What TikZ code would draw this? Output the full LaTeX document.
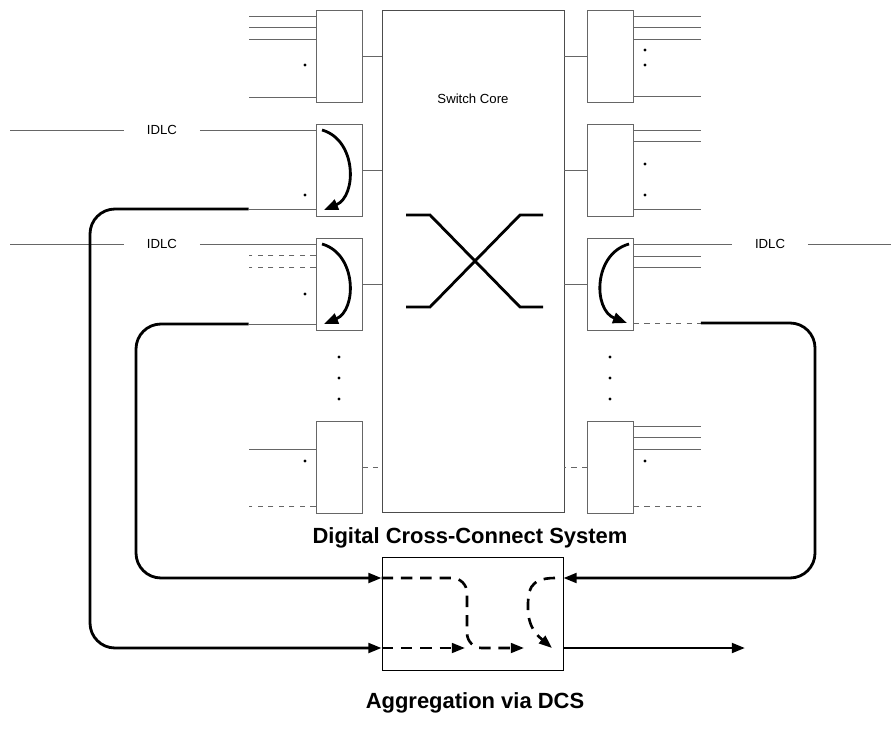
\documentclass[tikz,border=0pt]{standalone}
\usepackage{fontspec}
\setmainfont{Liberation Sans}
\usetikzlibrary{arrows.meta}

\begin{document}
\begin{tikzpicture}[x=0.02cm, y=-0.02cm,
	wire/.style={draw=black!60, line width=0.5pt},
	portbox/.style={draw=black!60, line width=0.5pt, minimum width=0.92cm, minimum height=1.84cm, inner sep=0pt},
	trunk/.style={line width=1.6pt, rounded corners=0.5cm},
	flow/.style={line width=1.5pt, dash pattern=on 6.5pt off 4.5pt},
	tip/.style={-{Triangle[length=7.5pt,width=5.5pt]}},
	curl/.style={line width=1.6pt, -{Triangle[length=8pt,width=6pt]}},
	idlc/.style={font=\fontsize{7.5}{9}\selectfont, inner xsep=0.45cm, inner ysep=1pt},
	title/.style={font=\fontsize{12.5}{15}\selectfont\bfseries}]
	\useasboundingbox (0,0) rectangle (891,729);

	% switch core with its port cards
	\node[draw=black!70, line width=0.5pt, minimum width=3.64cm, minimum height=10.04cm, inner sep=0pt] (core) at (473,261) {};
	\node[font=\fontsize{7.5}{9}\selectfont, anchor=base] (corelbl) at (473,104) {Switch Core};
	\draw[line width=1.6pt] (406,215) -- (430,215) -- (520,307) -- (543,307);
	\draw[line width=1.6pt] (406,307) -- (430,307) -- (520,215) -- (543,215);
	\foreach \n/\y in {1/56, 2/170, 3/284, 4/467} {
		\node[portbox] (lp\n) at (339,\y) {};
		\node[portbox] (rp\n) at (610.5,\y) {};
	}
	\foreach \n in {1,2,3} {
		\draw[wire] (lp\n) -- (core.west |- lp\n);
		\draw[wire] (rp\n) -- (core.east |- rp\n);
	}
	\draw[wire, dashed] (lp4) -- (core.west |- lp4);
	\draw[wire, dashed] (rp4) -- (core.east |- rp4);

	% tributary lines
	\foreach \n/\y in {1/16, 1/27, 1/39, 1/97, 4/449}
		\draw[wire] (lp\n.west |- 0,\y) -- +(-67,0);
	\foreach \n/\y in {3/255, 3/267, 4/506}
		\draw[wire, dashed] (lp\n.west |- 0,\y) -- +(-67,0);
	\foreach \n/\y in {1/16, 1/27, 1/39, 1/96, 2/130, 2/141, 2/209, 3/256, 3/267, 4/426, 4/437, 4/449}
		\draw[wire] (rp\n.east |- 0,\y) -- +(67,0);
	\draw[wire, dashed] (rp4.east |- 0,506) -- +(67,0);
	\draw[wire] (lp2.west |- 0,209) -- ++(-67,0) coordinate (tapA);
	\draw[wire] (lp3.west |- 0,324) -- ++(-67,0) coordinate (tapB);
	\draw[wire, dashed] (rp3.east |- 0,323) -- ++(67,0) coordinate (tapC);

	\node[idlc] (idlcA) at (162,130) {IDLC};
	\node[idlc] (idlcB) at (162,244) {IDLC};
	\node[idlc] (idlcC) at (770,244) {IDLC};
	\draw[wire] (10,130) -- (idlcA) -- (lp2.west |- idlcA);
	\draw[wire] (10,244) -- (idlcB) -- (lp3.west |- idlcB);
	\draw[wire] (rp3.east |- idlcC) -- (idlcC) -- (891,244);

	\foreach \x/\y in {305/65, 305/195, 305/294, 305/461, 645/50, 645/65, 645/164, 645/195, 645/461,
		339/357, 339/378, 339/399, 610/357, 610/378, 610/399}
		\fill (\x,\y) circle (0.9pt);

	% hairpins inside the cards
	\foreach \t in {130, 244}
		\draw[curl] (322,\t) .. controls (357,\t+10) and (357,\t+66) .. (324,\t+80);
	\draw[curl] (629,244) .. controls (593,254) and (593,310) .. (627,323);

	% DCS and the trunks into it
	\node[title, anchor=base] (dcslbl) at (470,543) {Digital Cross-Connect System};
	\node[draw, line width=0.5pt, minimum width=3.62cm, minimum height=2.26cm, inner sep=0pt] (dcs) at (472.5,613.5) {};
	\node[title, anchor=base] (agglbl) at (475,708) {Aggregation via DCS};
	\coordinate (out) at (745,648);

	\draw[trunk, tip] (tapA) -| (90,648) -- (dcs.west |- 0,648);
	\draw[trunk, tip] (tapB) -| (136,578) -- (dcs.west |- 0,578);
	\draw[trunk, tip] (tapC) -| (815,578) -- (dcs.east |- 0,578);
	\draw[trunk, tip] (dcs.east |- out) -- (out);

	\draw[flow, tip, rounded corners=0.3cm] (dcs.west |- 0,578) -- (467,578) -- (467,648) -- (524,648);
	\draw[flow, tip] (dcs.west |- 0,648) -- (465,648);
	\draw[flow, tip] (555,578) .. controls (528,578) and (528,592) .. (528,608) .. controls (528,628) and (538,636) .. (552,648);
\end{tikzpicture}
\end{document}
